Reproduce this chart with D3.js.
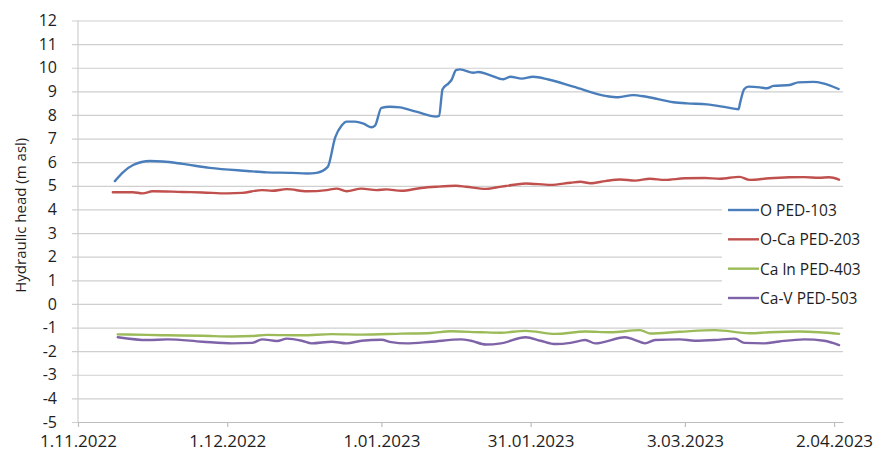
<!DOCTYPE html>
<html>
<head>
<meta charset="utf-8">
<script src="https://cdn.jsdelivr.net/npm/d3@7"></script>
<style>
  html, body { margin: 0; padding: 0; background: #fff; }
  svg { display: block; }
  text { font-family: "Open Sans", "Noto Sans", sans-serif; fill: #1e1e1e; }
</style>
</head>
<body>
<svg id="chart" width="883" height="452"></svg>
<script>
// Axis ticks
const yTicks = d3.range(-5, 13);
const xTickLabels = ["1.11.2022", "1.12.2022", "1.01.2023", "31.01.2023", "3.03.2023", "2.04.2023"];

// Series names and colours
const seriesNames = ["O PED-103", "O-Ca PED-203", "Ca ln PED-403", "Ca-V PED-503"];
const seriesColors = ["#4a7ebb", "#c0504d", "#9bbb59", "#7f63a8"];

// O PED-103
const dates103 = ["2022-11-08 10", "2022-11-10 05", "2022-11-12 02", "2022-11-15 12", "2022-11-18 00", "2022-11-22 00",
  "2022-11-27 12", "2022-12-05 00", "2022-12-09 00", "2022-12-14 00", "2022-12-17 00", "2022-12-19 00",
  "2022-12-21 05", "2022-12-22 17", "2022-12-24 00", "2022-12-25 00", "2022-12-26 17", "2022-12-28 12",
  "2022-12-30 00", "2022-12-30 17", "2023-01-01 00", "2023-01-02 17", "2023-01-04 17", "2023-01-08 00",
  "2023-01-12 00", "2023-01-12 14", "2023-01-13 07", "2023-01-14 12", "2023-01-15 02", "2023-01-16 00",
  "2023-01-16 19", "2023-01-19 12", "2023-01-20 12", "2023-01-22 19", "2023-01-25 12", "2023-01-26 22",
  "2023-01-29 05", "2023-01-31 12", "2023-02-03 14", "2023-02-08 14", "2023-02-15 07", "2023-02-17 14",
  "2023-02-20 14", "2023-02-23 07", "2023-02-28 17", "2023-03-03 10", "2023-03-07 10", "2023-03-11 10",
  "2023-03-13 19", "2023-03-14 02", "2023-03-14 22", "2023-03-15 19", "2023-03-18 02", "2023-03-19 12",
  "2023-03-20 19", "2023-03-24 02", "2023-03-25 19", "2023-03-28 19", "2023-03-30 19", "2023-04-02 22"];
const values103 = [5.2, 5.6, 5.88, 6.05, 6.03, 5.93,
  5.76, 5.63, 5.57, 5.55, 5.52, 5.55,
  5.8, 7.05, 7.55, 7.72, 7.72, 7.62,
  7.48, 7.55, 8.3, 8.35, 8.32, 8.14,
  7.93, 7.96, 9.09, 9.34, 9.48, 9.9,
  9.93, 9.79, 9.82, 9.69, 9.51, 9.62,
  9.54, 9.62, 9.5, 9.2, 8.8, 8.75,
  8.84, 8.77, 8.54, 8.49, 8.45, 8.32,
  8.24, 8.49, 9.09, 9.2, 9.17, 9.13,
  9.23, 9.27, 9.38, 9.4, 9.34, 9.1];

// O-Ca PED-203
const dates203 = ["2022-11-08", "2022-11-12", "2022-11-14", "2022-11-16", "2022-11-22", "2022-11-26", "2022-12-01",
  "2022-12-04", "2022-12-08", "2022-12-10", "2022-12-13", "2022-12-17", "2022-12-21", "2022-12-23", "2022-12-25",
  "2022-12-28", "2022-12-31", "2023-01-02", "2023-01-05", "2023-01-09", "2023-01-12", "2023-01-16", "2023-01-18",
  "2023-01-22", "2023-01-24", "2023-01-26", "2023-01-30", "2023-02-04", "2023-02-08", "2023-02-10", "2023-02-12",
  "2023-02-15", "2023-02-18", "2023-02-21", "2023-02-24", "2023-02-27", "2023-03-03", "2023-03-07", "2023-03-10",
  "2023-03-14", "2023-03-16", "2023-03-20", "2023-03-24", "2023-03-27", "2023-03-30", "2023-04-01", "2023-04-03"];
const values203 = [4.73, 4.73, 4.68, 4.77, 4.74, 4.72, 4.68,
  4.7, 4.82, 4.79, 4.86, 4.77, 4.82, 4.88, 4.77,
  4.88, 4.82, 4.85, 4.79, 4.91, 4.96, 5.0, 4.96,
  4.87, 4.93, 4.99, 5.1, 5.04, 5.13, 5.17, 5.11,
  5.2, 5.27, 5.22, 5.3, 5.25, 5.32, 5.33, 5.3,
  5.38, 5.25, 5.32, 5.36, 5.37, 5.34, 5.36, 5.26];

// Ca ln PED-403
const dates403 = ["2022-11-09", "2022-11-15", "2022-11-19", "2022-11-26", "2022-12-02", "2022-12-06", "2022-12-09",
  "2022-12-16", "2022-12-22", "2022-12-28", "2023-01-05", "2023-01-11", "2023-01-15", "2023-01-21", "2023-01-25",
  "2023-01-30", "2023-02-05", "2023-02-11", "2023-02-16", "2023-02-22", "2023-02-24", "2023-03-02", "2023-03-09",
  "2023-03-16", "2023-03-20", "2023-03-26", "2023-03-30", "2023-04-03"];
const values403 = [-1.29, -1.31, -1.33, -1.35, -1.38, -1.36, -1.31,
  -1.33, -1.28, -1.3, -1.26, -1.23, -1.16, -1.2, -1.22,
  -1.14, -1.27, -1.17, -1.2, -1.11, -1.25, -1.18, -1.11,
  -1.24, -1.2, -1.17, -1.2, -1.27];

// Ca-V PED-503
const dates503 = ["2022-11-09", "2022-11-15", "2022-11-19", "2022-11-26", "2022-12-02", "2022-12-06", "2022-12-08",
  "2022-12-11", "2022-12-13", "2022-12-16", "2022-12-18", "2022-12-22", "2022-12-25", "2022-12-28", "2023-01-01",
  "2023-01-03", "2023-01-06", "2023-01-11", "2023-01-17", "2023-01-19", "2023-01-22", "2023-01-25", "2023-01-30",
  "2023-02-02", "2023-02-05", "2023-02-08", "2023-02-11", "2023-02-13", "2023-02-19", "2023-02-21", "2023-02-23",
  "2023-02-25", "2023-03-02", "2023-03-05", "2023-03-09", "2023-03-13", "2023-03-15", "2023-03-19", "2023-03-22",
  "2023-03-27", "2023-03-31", "2023-04-03"];
const values503 = [-1.41, -1.53, -1.5, -1.6, -1.67, -1.65, -1.5,
  -1.57, -1.47, -1.56, -1.67, -1.6, -1.67, -1.56, -1.52,
  -1.62, -1.67, -1.6, -1.5, -1.56, -1.72, -1.67, -1.41,
  -1.56, -1.7, -1.65, -1.53, -1.67, -1.41, -1.53, -1.67,
  -1.53, -1.5, -1.56, -1.53, -1.47, -1.65, -1.67, -1.59,
  -1.5, -1.56, -1.74];

const parseHour = d3.timeParse("%Y-%m-%d %H");
const parseDay = d3.timeParse("%Y-%m-%d");
const parseDate = s => parseHour(s) || parseDay(s);
const parseLabel = d3.timeParse("%d.%m.%Y");

const series = [
  { name: seriesNames[0], color: seriesColors[0], dates: dates103, values: values103 },
  { name: seriesNames[1], color: seriesColors[1], dates: dates203, values: values203 },
  { name: seriesNames[2], color: seriesColors[2], dates: dates403, values: values403 },
  { name: seriesNames[3], color: seriesColors[3], dates: dates503, values: values503 }
].map(s => ({ ...s, points: s.dates.map((d, i) => ({ date: parseDate(d), value: s.values[i] })) }));

const svg = d3.select("#chart");
const plot = { left: 78, right: 843, top: 20.5, bottom: 422 };

const x = d3.scaleTime()
  .domain([new Date(2022, 10, 1), new Date(2023, 3, 3, 19)])
  .range([plot.left, plot.right]);
const y = d3.scaleLinear()
  .domain([-5, 12])
  .range([plot.bottom, plot.top]);

// Horizontal gridlines with value labels (plain hyphen for negatives)
const yAxis = svg.append("g")
  .attr("transform", `translate(${plot.left - 6},0)`)
  .call(d3.axisLeft(y).tickValues(yTicks).tickFormat(d => String(d))
    .tickSizeInner(-(plot.right - plot.left + 6)).tickSizeOuter(0).tickPadding(15));
yAxis.select(".domain").remove();
yAxis.selectAll(".tick line").attr("stroke", "#cfcfcf").attr("stroke-width", 1.2);
yAxis.selectAll(".tick text")
  .attr("font-size", 16).attr("fill", "#1e1e1e")
  .style("font-family", "'Open Sans', sans-serif");

// Vertical axis line
svg.append("line")
  .attr("x1", plot.left).attr("x2", plot.left)
  .attr("y1", plot.top).attr("y2", plot.bottom)
  .attr("stroke", "#cfcfcf").attr("stroke-width", 1.2);

// Date axis
const xAxis = svg.append("g")
  .attr("transform", `translate(0,${plot.bottom})`)
  .call(d3.axisBottom(x).tickValues(xTickLabels.map(parseLabel))
    .tickFormat((d, i) => xTickLabels[i]).tickSizeInner(5).tickSizeOuter(0).tickPadding(8));
xAxis.select(".domain").attr("stroke", "#bdbdbd").attr("stroke-width", 1.2);
xAxis.selectAll(".tick line").attr("stroke", "#bdbdbd").attr("stroke-width", 1.2);
xAxis.selectAll(".tick text")
  .attr("font-size", 17).attr("fill", "#1e1e1e")
  .style("font-family", "'Open Sans', sans-serif");

// Axis title
svg.append("text")
  .attr("transform", `translate(20,${(plot.top + plot.bottom) / 2 - 6}) rotate(-90)`)
  .attr("text-anchor", "middle")
  .attr("dominant-baseline", "central")
  .attr("font-size", 15)
  .text("Hydraulic head (m asl)");

// Series lines
const line = d3.line()
  .x(d => x(d.date))
  .y(d => y(d.value))
  .curve(d3.curveMonotoneX);

svg.append("g").selectAll("path")
  .data(series)
  .join("path")
  .attr("fill", "none")
  .attr("stroke", d => d.color)
  .attr("stroke-width", 2.4)
  .attr("stroke-linejoin", "round")
  .attr("stroke-linecap", "round")
  .attr("d", d => line(d.points));

// Legend
const legend = svg.append("g");
legend.append("rect")
  .attr("x", 722).attr("y", 195)
  .attr("width", 161).attr("height", 118)
  .attr("fill", "#fff");
const rowY = d3.scalePoint().domain(seriesNames).range([210, 298]);
const rows = legend.selectAll("g.row")
  .data(series)
  .join("g")
  .attr("class", "row")
  .attr("transform", d => `translate(0,${rowY(d.name)})`);
rows.append("line")
  .attr("x1", 728).attr("x2", 759)
  .attr("stroke", d => d.color)
  .attr("stroke-width", 2.4);
rows.append("text")
  .attr("x", 760)
  .attr("dominant-baseline", "central")
  .attr("font-size", 15.5)
  .text(d => d.name);
</script>
</body>
</html>
